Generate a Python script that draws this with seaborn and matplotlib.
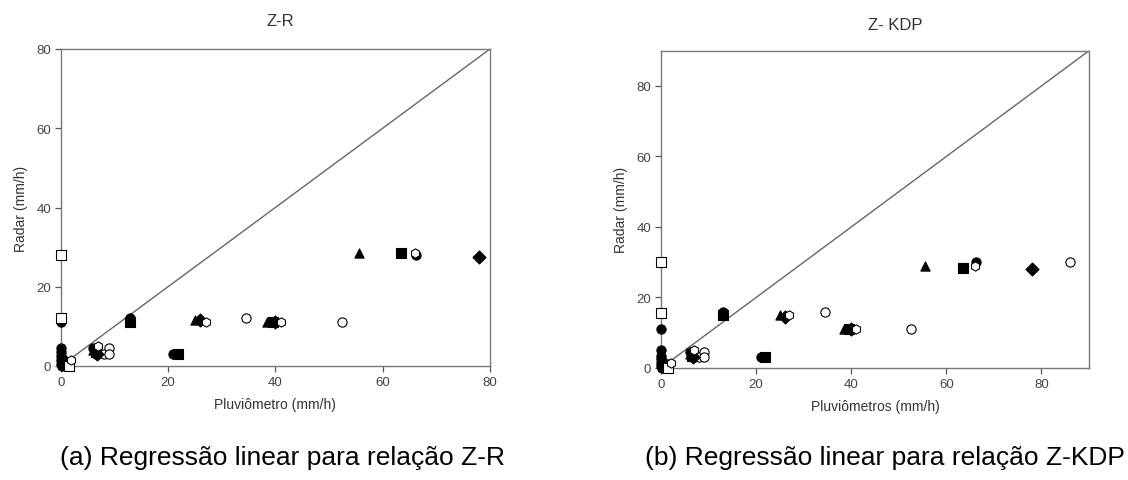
import matplotlib
matplotlib.use("Agg")
import matplotlib.pyplot as plt
import seaborn as sns
import pandas as pd

# ---------------------------------------------------------------
# Dados: pluviômetro (x) vs radar (y), em mm/h
# ---------------------------------------------------------------
# círculo cheio
circ_x_zr = [0, 0, 0, 0, 0, 0, 0.3, 6, 6.5, 13, 21, 66.3]
circ_y_zr = [11, 4.5, 3.5, 2.5, 1.5, 0.5, 0, 4.5, 3, 12, 3, 28]
circ_x_kdp = [0, 0, 0, 0, 0, 0, 0.3, 6, 6.5, 13, 21, 66.3]
circ_y_kdp = [11, 5, 3.5, 2.5, 1.5, 0.5, 0, 4.5, 3, 16, 3, 30]

# círculo vazio
ocirc_x_zr = [1.5, 7, 8, 9, 9, 34.5, 52.5]
ocirc_y_zr = [1, 3, 3, 4.5, 3, 12, 11]
ocirc_x_kdp = [1.5, 7, 8, 9, 9, 34.5, 52.5, 86]
ocirc_y_kdp = [1, 3, 3, 4.5, 3, 16, 11, 30]

# triângulo cheio
tri_x_zr = [1, 6, 25, 38.5, 55.5]
tri_y_zr = [1.5, 4, 11.5, 11, 28.5]
tri_x_kdp = [1, 6, 25, 38.5, 55.5]
tri_y_kdp = [1.5, 4, 15, 11, 29]

# quadrado cheio
sq_x_zr = [0.5, 6.5, 13, 21.8, 39.5, 63.5]
sq_y_zr = [0.5, 3.5, 11, 3, 11, 28.5]
sq_x_kdp = [0.5, 6.5, 13, 21.8, 39.5, 63.5]
sq_y_kdp = [0.5, 3.5, 15, 3, 11, 28.5]

# quadrado vazio
osq_x_zr = [0, 0, 1.5]
osq_y_zr = [28, 12, 0]
osq_x_kdp = [0, 0, 1.5]
osq_y_kdp = [30, 15.5, 0]

# losango cheio
dia_x_zr = [6.8, 26, 40, 78]
dia_y_zr = [3, 11.5, 11, 27.5]
dia_x_kdp = [6.8, 26, 40, 78]
dia_y_kdp = [3, 14.5, 11, 28]

# hexágono vazio
hex_x_zr = [2, 7, 27, 41, 66]
hex_y_zr = [1.5, 5, 11, 11, 28.5]
hex_x_kdp = [2, 7, 27, 41, 66]
hex_y_kdp = [1.5, 5, 15, 11, 29]

SERIES = [
    # nome, marcador, preenchimento, dados Z-R, dados Z-KDP
    ("circ",  "o", "black", (circ_x_zr, circ_y_zr),   (circ_x_kdp, circ_y_kdp)),
    ("ocirc", "o", "white", (ocirc_x_zr, ocirc_y_zr), (ocirc_x_kdp, ocirc_y_kdp)),
    ("tri",   "^", "black", (tri_x_zr, tri_y_zr),     (tri_x_kdp, tri_y_kdp)),
    ("sq",    "s", "black", (sq_x_zr, sq_y_zr),       (sq_x_kdp, sq_y_kdp)),
    ("osq",   "s", "white", (osq_x_zr, osq_y_zr),     (osq_x_kdp, osq_y_kdp)),
    ("dia",   "D", "black", (dia_x_zr, dia_y_zr),     (dia_x_kdp, dia_y_kdp)),
    ("hex",   "h", "white", (hex_x_zr, hex_y_zr),     (hex_x_kdp, hex_y_kdp)),
]

sns.set_style("ticks")
plt.rcParams["font.family"] = ["Liberation Sans", "DejaVu Sans"]

fig = plt.figure(figsize=(11.28, 4.81), dpi=100)

W, H = 1128, 481
ax_zr = fig.add_axes([60.7 / W, (H - 367) / H, (490 - 60.7) / W, (367 - 50) / H])
ax_kdp = fig.add_axes([661 / W, (H - 369) / H, (1089 - 661) / W, (369 - 51.7) / H])

GRAY = "#555555"


def draw_panel(ax, idx, lim, ticks, xlabel):
    ax.plot([0, lim], [0, lim], color="#666666", lw=1.0, zorder=1)
    for name, marker, fill, d_zr, d_kdp in SERIES:
        xs, ys = (d_zr, d_kdp)[idx]
        df = pd.DataFrame({"x": xs, "y": ys})
        sns.scatterplot(data=df, x="x", y="y", ax=ax, marker=marker,
                        color=fill, edgecolor="black", linewidth=0.8,
                        s=44, zorder=3, clip_on=False, legend=False)
    ax.set_xlim(0, lim)
    ax.set_ylim(0, lim)
    ax.set_xticks(ticks)
    ax.set_yticks(ticks)
    ax.tick_params(direction="out", length=4, width=0.9, color=GRAY,
                   labelcolor="#444444", labelsize=9.5, pad=3)
    for sp in ax.spines.values():
        sp.set_visible(True)
        sp.set_color("#777777")
        sp.set_linewidth(1.0)
    ax.set_xlabel(xlabel, fontsize=10, color="#333333", labelpad=7)
    ax.set_ylabel("Radar (mm/h)", fontsize=10, color="#333333", labelpad=6)


draw_panel(ax_zr, 0, 80, [0, 20, 40, 60, 80], "Pluviômetro (mm/h)")
draw_panel(ax_kdp, 1, 90, [0, 20, 40, 60, 80], "Pluviômetros (mm/h)")

fig.text(280 / W, 1 - 22 / H, "Z-R", ha="center", va="center",
         fontsize=12, color="#333333")
fig.text(895 / W, 1 - 25 / H, "Z- KDP", ha="center", va="center",
         fontsize=12, color="#333333")

fig.text(283 / W, 1 - 458 / H, "(a) Regressão linear para relação Z-R",
         ha="center", va="center", fontsize=19, color="black")
fig.text(885 / W, 1 - 458 / H, "(b) Regressão linear para relação Z-KDP",
         ha="center", va="center", fontsize=19, color="black")

fig.savefig("out.png", dpi=100)
